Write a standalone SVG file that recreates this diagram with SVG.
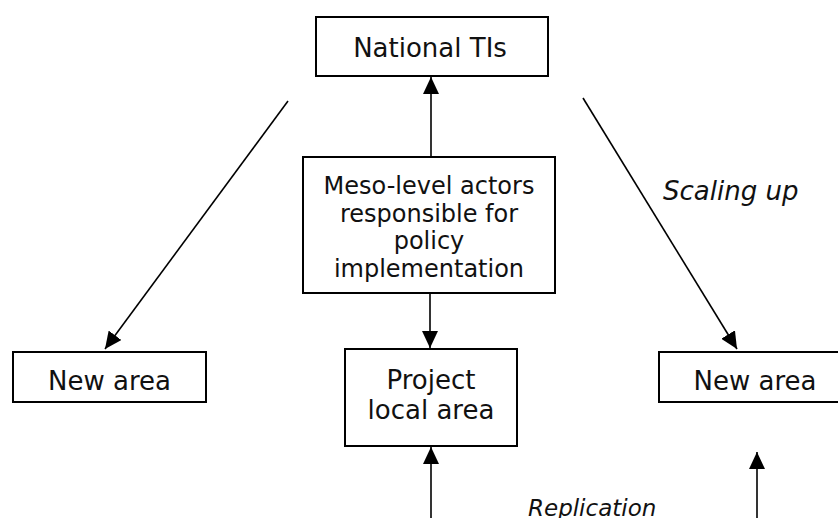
<svg xmlns="http://www.w3.org/2000/svg" width="838" height="518" viewBox="0 0 838 518">
  <style>
    .box { fill: #ffffff; stroke: #000000; stroke-width: 2; }
    .lbl { font-family: "DejaVu Sans", Verdana, sans-serif; font-size: 26px; fill: #111111; text-anchor: middle; }
    .small { font-size: 24px; }
    .note { font-family: "DejaVu Sans", Verdana, sans-serif; font-size: 26px; font-style: italic; fill: #111111; }
    .note.repl { font-size: 23px; }
    .link { stroke: #000000; stroke-width: 1.6; fill: none; marker-end: url(#head); }
  </style>
  <defs>
    <marker id="head" viewBox="0 0 17 16" refX="17" refY="8" markerWidth="17" markerHeight="16" orient="auto" markerUnits="userSpaceOnUse">
      <path d="M0,0 L17,8 L0,16 Z" fill="#000000"/>
    </marker>
  </defs>

  <rect width="838" height="518" fill="#ffffff"/>

  <g id="connectors">
    <line class="link" x1="431" y1="157" x2="431" y2="77"/>
    <line class="link" x1="430" y1="293" x2="430" y2="348"/>
    <line class="link" x1="431" y1="518" x2="431" y2="447"/>
    <line class="link" x1="757" y1="518" x2="757" y2="452"/>
    <line class="link" x1="583" y1="98" x2="737" y2="349"/>
    <line class="link" x1="288" y1="101" x2="105" y2="349" stroke-width="1.2"/>
  </g>

  <g id="national">
    <rect class="box" x="316" y="17" width="232" height="59"/>
    <text class="lbl" x="430" y="57">National TIs</text>
  </g>

  <g id="meso">
    <rect class="box" x="303" y="157" width="252" height="136"/>
    <text class="lbl small" x="429" y="194">Meso-level actors</text>
    <text class="lbl small" x="429" y="221.5">responsible for</text>
    <text class="lbl small" x="429" y="249">policy</text>
    <text class="lbl small" x="429" y="276.5">implementation</text>
  </g>

  <g id="project">
    <rect class="box" x="345" y="349" width="172" height="97"/>
    <text class="lbl" x="431" y="389">Project</text>
    <text class="lbl" x="431" y="419">local area</text>
  </g>

  <g id="new-area-left">
    <rect class="box" x="13" y="352" width="193" height="50"/>
    <text class="lbl" x="109.5" y="390">New area</text>
  </g>

  <g id="new-area-right">
    <rect class="box" x="659" y="352" width="200" height="50"/>
    <text class="lbl" x="755" y="390">New area</text>
  </g>

  <g id="labels">
    <text class="note" x="663" y="200">Scaling up</text>
    <text class="note repl" x="528" y="516">Replication</text>
  </g>
</svg>
